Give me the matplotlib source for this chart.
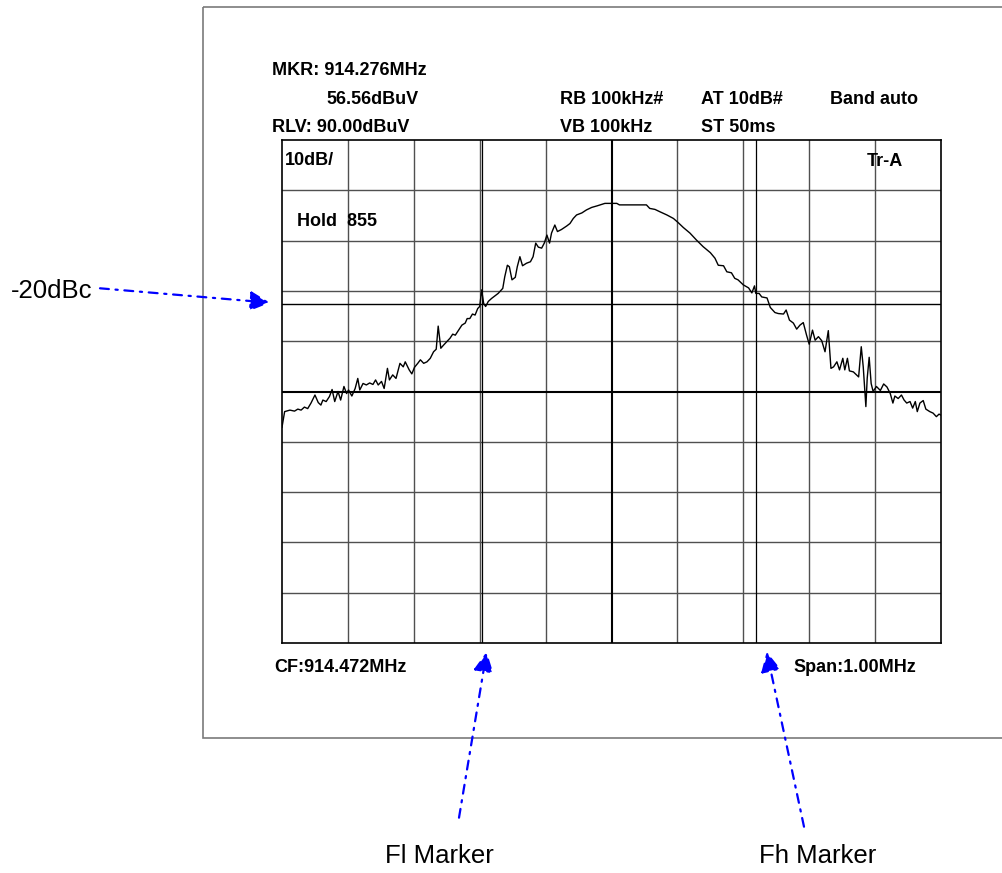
import matplotlib
matplotlib.use("Agg")
import matplotlib.pyplot as plt
from matplotlib.patches import Rectangle
import numpy as np

# ---------------- data ----------------
CF_MHZ = 914.472
SPAN_MHZ = 1.00
RLV_DBUV = 90.0
DB_PER_DIV = 10
N_DIV = 10
FL_OFFSET_KHZ = -196.0   # Fl marker (914.276 MHz)
FH_OFFSET_KHZ = 220.0    # Fh marker
DBC_DROP = 20.0

freq_offset_khz = [-500,-496,-488,-481,-476,-471,-466,-461,-456,-450,
                   -445,-441,-438,-433,-428,-424,-420,-415,-411,-406,
                   -402,-399,-394,-389,-385,-382,-377,-372,-367,-362,
                   -358,-354,-349,-345,-340,-337,-332,-327,-321,-316,
                   -313,-307,-303,-299,-294,-290,-285,-280,-275,-270,
                   -266,-263,-259,-255,-250,-245,-241,-237,-232,-227,
                   -222,-219,-215,-211,-207,-203,-200,-197,-194,-191,
                   -187,-182,-177,-172,-165,-162,-158,-155,-151,-146,
                   -143,-139,-135,-129,-123,-119,-115,-111,-106,-102,
                   -98,-94,-91,-86,-82,-76,-68,-63,-58,-53,
                   -45,-38,-30,-22,-12,-10,8,12,53,58,
                   66,74,84,94,101,109,119,129,139,150,
                   157,162,170,175,182,187,192,200,208,213,
                   217,219,224,228,236,241,248,253,261,265,
                   270,276,281,286,291,296,300,305,309,314,
                   319,324,329,333,337,342,346,351,354,358,
                   361,367,375,379,382,386,388,391,394,397,
                   402,408,413,418,423,427,430,435,440,444,
                   448,453,457,461,464,468,473,477,483,488,
                   493,497,500]

level_dbuv = [32.9,36.0,36.3,36.1,36.5,36.3,36.9,36.6,37.7,39.3,
              37.8,37.3,38.3,38.0,39.0,40.4,38.0,40.0,38.3,41.0,
              39.6,40.3,39.1,40.6,42.6,40.3,41.6,41.3,41.7,41.4,
              42.3,41.3,42.0,40.6,44.6,42.3,43.3,42.6,45.6,44.9,
              45.9,44.3,43.5,44.8,45.6,46.3,45.6,45.9,46.6,47.9,
              48.4,53.0,48.6,49.2,49.9,50.6,51.4,51.2,52.2,53.2,
              53.6,54.5,54.5,55.4,55.2,56.5,56.9,60.2,57.5,56.9,
              57.9,58.5,59.0,59.5,60.5,62.8,65.1,64.8,62.2,62.7,
              64.8,66.8,65.0,65.5,65.8,66.8,69.5,68.7,68.5,69.5,
              71.1,69.5,71.5,73.1,71.8,72.2,72.9,73.4,74.4,75.1,
              75.5,76.1,76.6,76.9,77.3,77.4,77.4,77.1,77.1,76.4,
              76.2,75.7,75.1,74.4,73.6,72.6,71.5,70.1,68.8,67.6,
              66.5,65.1,65.0,63.8,63.6,62.5,62.2,61.2,60.6,59.6,
              61.0,59.5,59.5,58.8,58.6,56.7,55.7,55.5,55.4,56.2,
              54.2,53.6,52.4,53.2,53.7,51.2,49.4,52.2,50.2,50.9,
              50.1,47.9,52.1,44.6,44.9,45.9,44.3,46.6,44.3,46.6,
              44.1,43.9,42.9,48.9,44.9,37.0,42.6,46.8,41.6,40.0,
              41.0,40.2,41.5,40.9,39.6,37.7,39.1,38.6,39.3,38.3,
              37.7,38.0,36.7,38.0,36.0,37.7,38.2,36.5,36.0,35.7,
              35.0,35.5,35.3]

header_left = [("MKR: 914.276MHz", 272, 70.5), ("56.56dBuV", 326, 99.5),
               ("RLV: 90.00dBuV", 272, 127.5)]
header_mid = [("RB 100kHz#", 560, 99.5), ("AT 10dB#", 701, 99.5),
              ("Band auto", 830, 99.5), ("VB 100kHz", 560, 127.5),
              ("ST 50ms", 701, 127.5)]
inner_labels = [("10dB/", 285, 160.5), ("Tr-A", 867, 161), ("Hold  855", 297, 221)]
footer_labels = [("CF:914.472MHz", 274, 668), ("Span:1.00MHz", 793, 668)]

# ---------------- figure ----------------
W, H = 1003, 873
fig = plt.figure(figsize=(W / 100, H / 100), dpi=100)
fig.patch.set_facecolor("white")

gx0, gx1, gy0, gy1 = 282, 941, 140, 643
ax = fig.add_axes([gx0 / W, 1 - gy1 / H, (gx1 - gx0) / W, (gy1 - gy0) / H])

f = CF_MHZ + np.array(freq_offset_khz) / 1000.0
lv = np.array(level_dbuv)
fmin, fmax = CF_MHZ - SPAN_MHZ / 2, CF_MHZ + SPAN_MHZ / 2
ybot = RLV_DBUV - DB_PER_DIV * N_DIV
ax.set_xlim(fmin, fmax)
ax.set_ylim(ybot, RLV_DBUV)
ax.set_xticks([])
ax.set_yticks([])

gcol = "#505050"
for k in range(1, N_DIV):
    xv = fmin + k * SPAN_MHZ / N_DIV
    yv = ybot + k * DB_PER_DIV
    if k == N_DIV // 2:
        ax.axvline(xv, color="black", lw=1.5, zorder=2)
        ax.axhline(yv, color="black", lw=1.5, zorder=2)
    else:
        ax.axvline(xv, color=gcol, lw=1.0, zorder=1)
        ax.axhline(yv, color=gcol, lw=1.0, zorder=1)

# marker lines and -20 dBc line
ax.axvline(CF_MHZ + FL_OFFSET_KHZ / 1000, color="black", lw=0.9, zorder=2)
ax.axvline(CF_MHZ + FH_OFFSET_KHZ / 1000, color="black", lw=0.9, zorder=2)
ax.axhline(lv.max() - DBC_DROP, color="black", lw=1.0, zorder=2)

ax.plot(f, lv, color="black", lw=1.0, zorder=3)
for s in ax.spines.values():
    s.set_linewidth(1.2)
    s.set_color("black")

# ---------------- overlay (pixel coords) ----------------
ov = fig.add_axes([0, 0, 1, 1], zorder=5)
ov.set_xlim(0, W)
ov.set_ylim(H, 0)
ov.axis("off")

ov.add_patch(Rectangle((203.5, 7), 900, 731, fill=False, edgecolor="#7a7a7a", lw=1.2))

bold = dict(family=["Liberation Sans", "DejaVu Sans"], fontsize=13, fontweight="bold",
            va="center", ha="left", color="black")
for txt, x, y in header_left + header_mid + inner_labels + footer_labels:
    ov.text(x, y, txt, **bold)

reg = dict(family=["Liberation Sans", "DejaVu Sans"], fontsize=18.5, va="center",
           ha="left", color="black")
ov.text(11, 291, "-20dBc", **reg)
ov.text(385, 856, "Fl Marker", **reg)
ov.text(759, 856, "Fh Marker", **reg)

aprops = dict(arrowstyle="-|>,head_length=1.1,head_width=0.55", color="blue",
              lw=1.6, linestyle=(0, (4, 3, 1, 3)), shrinkA=0, shrinkB=0,
              mutation_scale=11, joinstyle="miter")
ov.annotate("", xy=(270, 302.7), xytext=(100, 288.3), arrowprops=aprops)
ov.annotate("", xy=(486.7, 651.7), xytext=(459, 817.7), arrowprops=aprops)
ov.annotate("", xy=(766.7, 651.7), xytext=(804, 826.7), arrowprops=aprops)

fig.savefig("out.png", dpi=100, facecolor="white")
